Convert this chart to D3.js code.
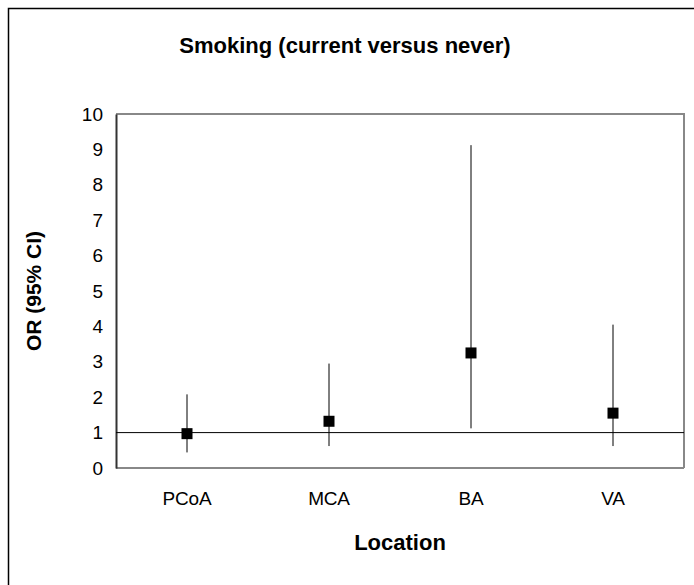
<!DOCTYPE html>
<html><head><meta charset="utf-8">
<script src="https://cdn.jsdelivr.net/npm/d3@7"></script>
<style>body{margin:0;background:#fff}svg{display:block}</style>
</head><body>
<script>
const categories = ["PCoA", "MCA", "BA", "VA"];
const orValues = [0.97, 1.32, 3.25, 1.55];
const ciLower = [0.44, 0.62, 1.12, 0.62];
const ciUpper = [2.08, 2.95, 9.12, 4.05];
const yTicks = [0,1,2,3,4,5,6,7,8,9,10];
const refValue = 1;

const W = 694, H = 585;
const m = {left:116, right:684, top:114, bottom:468};
const svg = d3.select("body").append("svg").attr("width", W).attr("height", H);
svg.append("rect").attr("x",0).attr("y",0).attr("width",W).attr("height",H).attr("fill","#fff");
// outer frame
svg.append("path").attr("d","M8.5,700V8.5H700").attr("fill","none").attr("stroke","#000").attr("stroke-width",1.5);

const x = d3.scaleBand().domain(categories).range([m.left, m.right]);
const y = d3.scaleLinear().domain([0,10]).range([m.bottom, m.top]);
const font = "'Liberation Sans', Arial, sans-serif";

// plot frame
svg.append("path").attr("d",`M${m.left},${m.top}H${m.right}V${m.bottom}`).attr("fill","none").attr("stroke","#888").attr("stroke-width",2);
svg.append("line").attr("x1",m.left).attr("x2",m.right).attr("y1",m.bottom).attr("y2",m.bottom).attr("stroke","#888").attr("stroke-width",2);

// y axis
const ya = svg.append("g").attr("transform",`translate(${m.left},0)`).call(d3.axisLeft(y).tickValues(yTicks).tickSize(0).tickPadding(13));
ya.select(".domain").attr("stroke","#333").attr("stroke-width",2);
ya.selectAll("text").attr("font-family",font).attr("font-size",19).attr("fill","#000");

// x axis labels
const xa = svg.append("g").attr("transform",`translate(0,${m.bottom})`).call(d3.axisBottom(x).tickSize(0).tickPadding(24));
xa.select(".domain").remove();
xa.selectAll("text").attr("font-family",font).attr("font-size",19).attr("fill","#000").attr("letter-spacing",-0.2);

// reference line
svg.append("line").attr("x1",m.left).attr("x2",m.right).attr("y1",y(refValue)).attr("y2",y(refValue)).attr("stroke","#000").attr("stroke-width",1);

const cx = c => x(c) + x.bandwidth()/2;
// CI lines
svg.selectAll(".ci").data(categories).enter().append("line")
  .attr("x1",cx).attr("x2",cx)
  .attr("y1",(c,i)=>y(ciLower[i])).attr("y2",(c,i)=>y(ciUpper[i]))
  .attr("stroke","#000").attr("stroke-width",1);
// markers
const s = 11;
svg.selectAll(".pt").data(categories).enter().append("rect")
  .attr("x",c=>cx(c)-s/2).attr("y",(c,i)=>y(orValues[i])-s/2)
  .attr("width",s).attr("height",s).attr("fill","#000");

// title
svg.append("text").attr("x",345).attr("y",53).attr("text-anchor","middle")
  .attr("font-family",font).attr("font-weight","bold").attr("font-size",22).text("Smoking (current versus never)");
// x title
svg.append("text").attr("x",400).attr("y",550).attr("text-anchor","middle")
  .attr("font-family",font).attr("font-weight","bold").attr("font-size",22).text("Location");
// y title
svg.append("text").attr("transform","translate(41,291) rotate(-90)").attr("text-anchor","middle")
  .attr("font-family",font).attr("font-weight","bold").attr("font-size",21).text("OR (95% CI)");
</script>
</body></html>
